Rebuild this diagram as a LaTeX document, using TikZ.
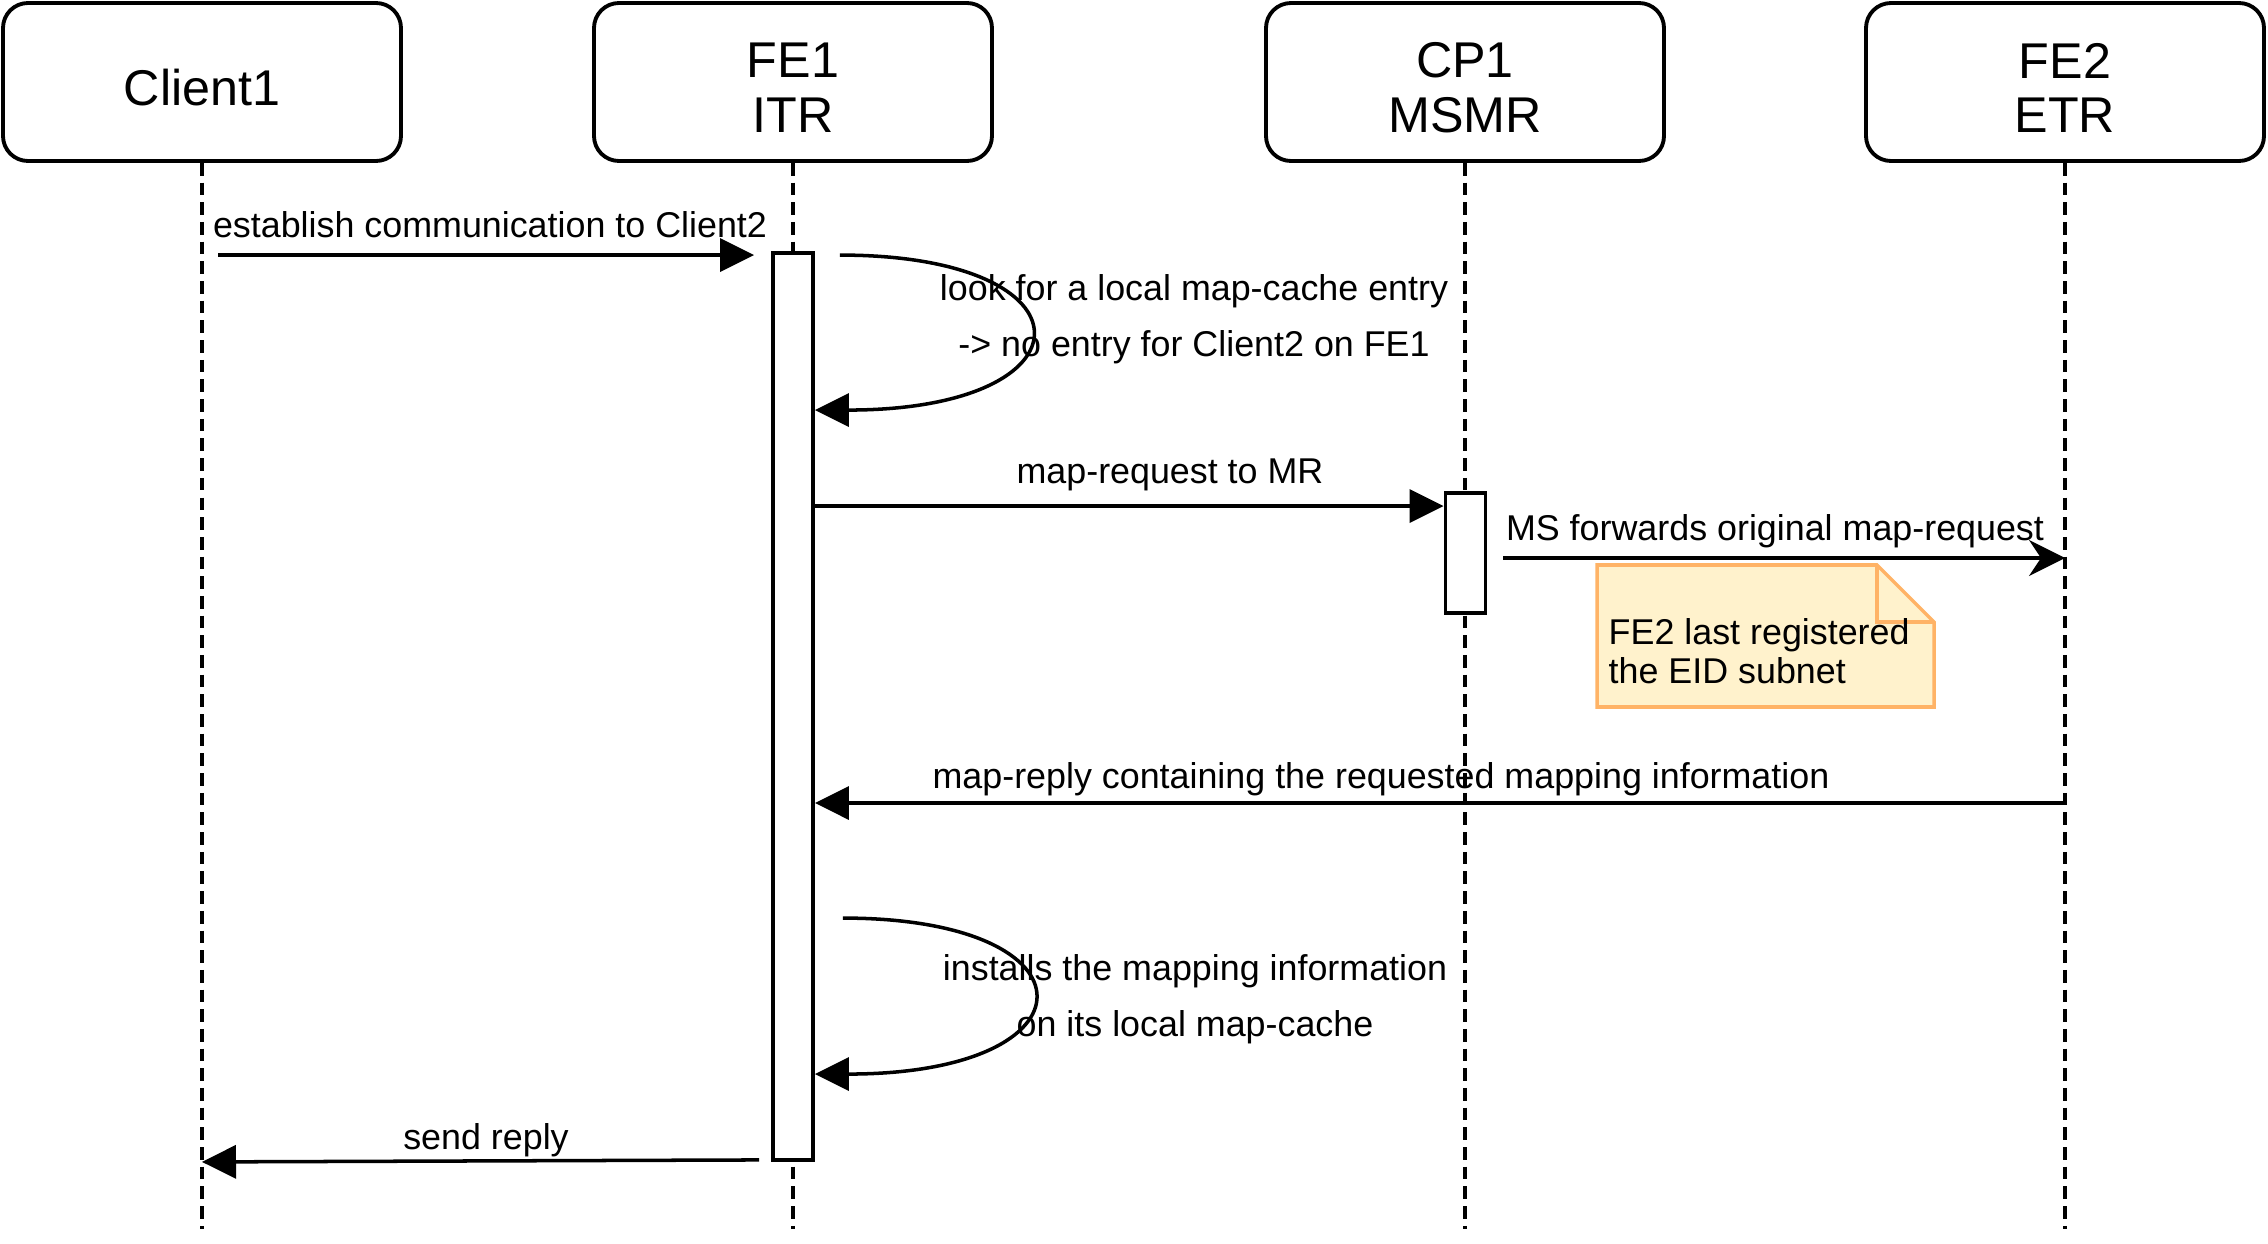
\documentclass[tikz,border=0pt]{standalone}
\usepackage{fontspec}
\setmainfont{Liberation Sans}
\usetikzlibrary{arrows.meta,positioning,calc}
\definecolor{nfill}{HTML}{FFF2CC}
\definecolor{nline}{HTML}{FFB366}
\tikzset{
  head/.style={draw=black,fill=white,rounded corners=0.25cm,line width=1.1pt,minimum width=3.98cm,minimum height=1.58cm,inner sep=0pt},
  htext/.style={align=center,font=\fontsize{14.3}{15.6}\selectfont,inner sep=0pt},
  life/.style={line width=1pt,dash pattern=on 3.6pt off 2pt},
  actbar/.style={draw=black,fill=white,line width=1.1pt,minimum width=0.4cm,inner sep=0pt},
  msg/.style={-{Triangle[length=0.34cm,width=0.33cm]},line width=1pt},
  fwd/.style={-{Stealth[length=0.36cm,width=0.36cm,inset=0.12cm]},line width=1pt},
  lbl/.style={font=\fontsize{10.2}{16}\selectfont,align=center,inner sep=0pt},
  notebox/.style={fill=nfill,draw=nline,line width=1pt},
}
\begin{document}
\begin{tikzpicture}
  \useasboundingbox (0,0) rectangle (22.68,-12.44);
  \foreach \n/\x/\t in {client/2.02/Client1, fe1/7.93/{FE1\\ITR}, cp1/14.65/{CP1\\MSMR}, fe2/20.65/{FE2\\ETR}} {
    \node[head] (\n) at (\x,-0.82) {};
    \node[htext] (\n-t) at (\x,-0.88) {\t};
    \coordinate (\n-end) at (\x,-12.29);
    \draw[life] (\n) -- (\n-end);
  }
  \node[actbar,minimum height=9.07cm] (act1) at (7.93,-7.065) {};
  \node[actbar,minimum height=1.2cm] (act2) at (14.655,-5.53) {};

  \draw[msg] ([xshift=0.16cm,yshift=-0.04cm]client.south |- act1.north) -- ([xshift=-0.17cm,yshift=-0.04cm]act1.north west);
  \node[lbl] (lest) at (4.90,-2.25) {establish communication to Client2};

  \draw[msg] ([xshift=0.25cm,yshift=-0.04cm]act1.north east) .. controls +(2.59,0) and +(2.82,0) .. ([yshift=-1.59cm]act1.north east);
  \node[lbl] (llook) at (11.94,-3.19) {look for a local map-cache entry\\-> no entry for Client2 on FE1};

  \coordinate (mreq) at ([yshift=-0.15cm]act2.north west);
  \draw[msg] (act1.east |- mreq) -- (mreq);
  \node[lbl] (lreq) at (11.70,-4.75) {map-request to MR};

  \coordinate (mfwd) at ([xshift=0.16cm,yshift=-0.05cm]act2.east);
  \draw[fwd] (mfwd) -- (mfwd -| fe2-end);
  \node[lbl] (lfwd) at (17.75,-5.31) {MS forwards original map-request};

  \draw[notebox] (15.97,-5.65) -- (18.77,-5.65) -- (19.34,-6.22) -- (19.34,-7.07) -- (15.97,-7.07) -- cycle;
  \draw[notebox,fill=none] (18.77,-5.65) -- (18.77,-6.22) -- (19.34,-6.22);
  \node[lbl,font=\fontsize{10.2}{11.1}\selectfont,align=left,anchor=west] (note) at (16.08,-6.515) {FE2 last registered\\the EID subnet};

  \coordinate (mrep) at (fe2-end |- 0,-8.03);
  \draw[msg] (mrep) -- (mrep -| act1.east);
  \node[lbl] (lrep) at (13.81,-7.79) {map-reply containing the requested mapping information};

  \draw[msg] ([xshift=0.28cm,yshift=-6.67cm]act1.north east) .. controls +(2.59,0) and +(2.85,0) .. ([yshift=-8.23cm]act1.north east);
  \node[lbl] (linst) at (11.95,-9.99) {installs the mapping information\\on its local map-cache};

  \draw[msg] ([xshift=-0.12cm,yshift=0.02cm]act1.south west) -- (client-end |- act1.south);
  \node[lbl] (lsend) at (4.86,-11.40) {send reply};
\end{tikzpicture}
\end{document}
